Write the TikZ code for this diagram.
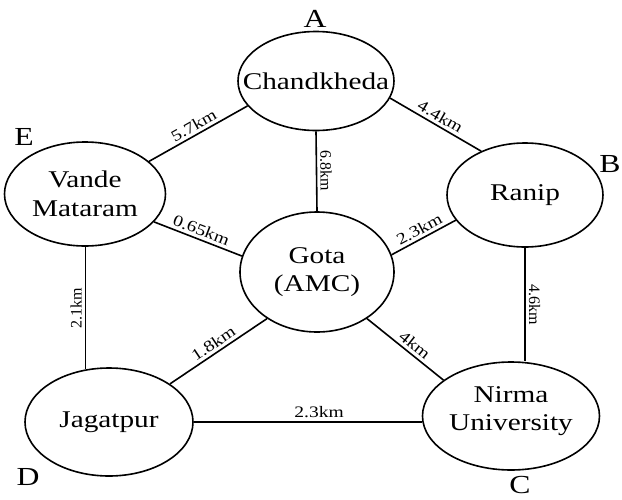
\documentclass[tikz,border=0pt]{standalone}
\usepackage{fontspec}
\setmainfont{Liberation Serif}[FakeStretch=1.22]
\newfontfamily\vertfont{Liberation Serif}
\usepackage{tikz}
\usetikzlibrary{shapes.geometric}

\begin{document}
\begin{tikzpicture}[x=1pt, y=-1pt, line width=1.6pt,
    place/.style={ellipse, draw, inner sep=0pt},
    placetext/.style={align=center, font=\fontsize{24}{28.5}\selectfont},
    dist/.style={sloped, above, inner sep=3pt, font=\fontsize{16}{18}\selectfont},
    vdist/.style={dist, font=\vertfont\fontsize{16}{18}\selectfont},
    tag/.style={inner sep=0pt, font=\fontsize{26}{30}\selectfont}
]
\useasboundingbox (0,0) rectangle (622,499);

% ---- places ----
\node[place, minimum width=156pt, minimum height=99pt, label={[placetext]center:Chandkheda}] (ch) at (316,81) {};
\node[place, minimum width=156pt, minimum height=104pt, label={[placetext]center:Ranip}] (rn) at (525,195) {};
\node[place, minimum width=161pt, minimum height=104pt, label={[placetext]center:{Vande\\Mataram}}] (vm) at (85,194) {};
\node[place, minimum width=154pt, minimum height=120pt, label={[placetext]center:{Gota\\(AMC)}}] (gt) at (317,272) {};
\node[place, minimum width=168pt, minimum height=108pt, label={[placetext]center:Jagatpur}] (jg) at (109,422) {};
\node[place, minimum width=177pt, minimum height=108pt, label={[placetext, yshift=5pt]center:{Nirma\\University}}] (nm) at (511,416) {};

% ---- corner letters ----
\node[tag] (tA) at (315,19) {A};
\node[tag] (tB) at (610,164) {B};
\node[tag] (tC) at (520,485) {C};
\node[tag] (tD) at (28,477) {D};
\node[tag] (tE) at (24,137) {E};

% ---- roads ----
\draw (vm.27) -- node[dist] {5.7km} (ch.200);
\draw (ch.-13) -- node[dist] {4.4km} (rn.135);
\draw (ch.south) -- node[vdist] {6.8km} (gt.north);
\draw (vm.-22) -- node[dist] {0.65km} (gt.168);
\draw (gt.13) -- node[dist] {2.3km} (rn.200);
\draw (jg.114) -- node[vdist] {2.1km} (jg.114 |- vm.south);
\draw (rn.south) -- node[vdist] {4.6km} (rn.south |- nm.north);
\draw (jg.32) -- node[dist] {1.8km} (gt.223);
\draw (gt.-43) -- node[dist, pos=0.55] {4km} (nm.152);
\draw (jg.east) -- node[dist, pos=0.55] {2.3km} (jg.east -| nm.west);
\end{tikzpicture}
\end{document}
